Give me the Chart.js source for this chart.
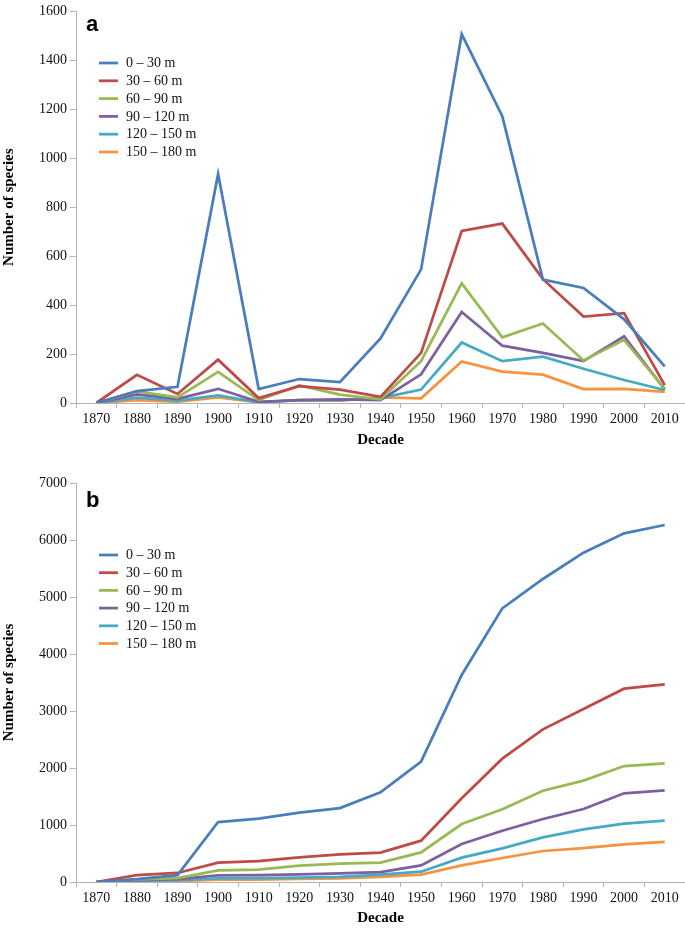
<!DOCTYPE html>
<html>
<head>
<meta charset="utf-8">
<script src="https://cdn.jsdelivr.net/npm/chart.js@4.4.1/dist/chart.umd.min.js"></script>
<style>
  html, body { margin: 0; padding: 0; background: #fff; }
  #wrap { position: relative; width: 685px; height: 928px; }
  .panel { position: absolute; left: 0; width: 685px; height: 464px; }
  canvas { display: block; }
</style>
</head>
<body>
<div id="wrap">
  <div class="panel" style="top:0"><canvas id="cA" width="685" height="464"></canvas></div>
  <div class="panel" style="top:464px"><canvas id="cB" width="685" height="464"></canvas></div>
</div>
<script>
// ---- data ----
const decades = ['1870','1880','1890','1900','1910','1920','1930','1940','1950','1960','1970','1980','1990','2000','2010'];
const seriesLabels = ['0 \u2013 30 m','30 \u2013 60 m','60 \u2013 90 m','90 \u2013 120 m','120 \u2013 150 m','150 \u2013 180 m'];
const seriesColors = ['#4A7EBB','#BE4B48','#98B954','#7D60A0','#46AAC5','#F69240'];

// panel a: species per decade
const a0_30   = [0, 49, 66, 936, 57, 98, 85, 264, 546, 1507, 1172, 504, 470, 342, 150];
const a30_60  = [0, 115, 37, 177, 20, 69, 55, 25, 205, 703, 733, 506, 353, 367, 73];
const a60_90  = [0, 47, 23, 127, 12, 72, 34, 15, 171, 489, 268, 325, 174, 258, 59];
const a90_120 = [0, 35, 17, 58, 5, 12, 15, 12, 117, 372, 234, 205, 171, 272, 55];
const a120_150= [0, 22, 10, 31, 3, 12, 12, 20, 55, 247, 171, 189, 140, 94, 53];
const a150_180= [0, 12, 5, 23, 3, 12, 10, 23, 19, 170, 128, 116, 57, 58, 45];

// panel b: cumulative species
const b0_30   = [0, 50, 120, 1052, 1111, 1216, 1297, 1572, 2111, 3632, 4801, 5316, 5778, 6117, 6263];
const b30_60  = [0, 120, 158, 339, 368, 433, 486, 515, 725, 1468, 2164, 2678, 3035, 3392, 3468];
const b60_90  = [0, 47, 70, 205, 216, 286, 321, 339, 520, 1017, 1275, 1602, 1778, 2035, 2082];
const b90_120 = [0, 35, 52, 117, 122, 135, 150, 175, 292, 667, 900, 1105, 1280, 1556, 1608];
const b120_150= [0, 22, 32, 63, 66, 78, 90, 130, 181, 427, 591, 784, 924, 1023, 1076];
const b150_180= [0, 12, 17, 40, 43, 55, 65, 90, 129, 292, 421, 544, 596, 661, 702];

const yTitle = 'Number of species';
const xTitle = 'Decade';

// ---- styling / helpers ----
const SERIF = '"Liberation Serif", "Times New Roman", serif';
const SANS = '"Liberation Sans", Arial, sans-serif';
const AXIS = '#B3B3B3';

const panelPlugin = {
  id: 'panelDeco',
  afterDraw(chart, args, opts) {
    const ctx = chart.ctx;
    ctx.save();
    ctx.fillStyle = '#000';
    ctx.font = 'bold 22px ' + SANS;
    ctx.textAlign = 'left';
    ctx.textBaseline = 'alphabetic';
    ctx.fillText(opts.letter, opts.letterX, opts.letterY);
    ctx.font = '14px ' + SERIF;
    ctx.textBaseline = 'middle';
    chart.data.datasets.forEach((ds, i) => {
      const y = opts.legendY + i * opts.legendStep;
      ctx.strokeStyle = ds.borderColor;
      ctx.lineWidth = 2.75;
      ctx.beginPath();
      ctx.moveTo(opts.lineX0, y);
      ctx.lineTo(opts.lineX1, y);
      ctx.stroke();
      ctx.fillStyle = '#111';
      ctx.fillText(ds.label, opts.textX, y + 0.5);
    });
    ctx.restore();
  }
};

function cfg(arrays, yMax, yStep, deco, padTop, areaH, titlePadBottom) {
  const datasets = arrays.map((arr, i) => ({
    label: seriesLabels[i],
    data: arr,
    borderColor: seriesColors[i],
    backgroundColor: seriesColors[i],
    borderWidth: 2.75,
    pointRadius: 0,
    tension: 0,
    fill: false,
    order: i
  }));
  return {
    type: 'line',
    data: { labels: decades, datasets: datasets },
    options: {
      responsive: false,
      animation: false,
      devicePixelRatio: 1,
      layout: { padding: { top: padTop, left: 0, right: 0, bottom: 0 } },
      plugins: {
        legend: { display: false },
        tooltip: { enabled: false },
        panelDeco: deco
      },
      scales: {
        x: {
          type: 'category',
          offset: true,
          grid: { offset: true, drawOnChartArea: false, drawTicks: true, tickLength: 5, color: AXIS, tickColor: AXIS },
          border: { display: true, color: AXIS, width: 1 },
          ticks: { color: '#111', font: { family: SERIF, size: 14 }, padding: 3, maxRotation: 0, autoSkip: false },
          title: { display: true, text: xTitle, color: '#000', font: { family: SERIF, size: 15, weight: 'bold' }, padding: { top: 0, bottom: titlePadBottom } },
          afterFit(scale) { scale.height = 464 - padTop - areaH; }
        },
        y: {
          min: 0, max: yMax,
          grid: { drawOnChartArea: false, drawTicks: true, tickLength: 6, color: AXIS, tickColor: AXIS },
          border: { display: true, color: AXIS, width: 1 },
          ticks: { stepSize: yStep, color: '#111', font: { family: SERIF, size: 14 }, padding: 3, callback: v => String(v) },
          title: { display: true, text: yTitle, color: '#000', font: { family: SERIF, size: 15, weight: 'bold' }, padding: { top: 0, bottom: 0 } },
          afterFit(scale) { scale.width = 76; }
        }
      }
    },
    plugins: [panelPlugin]
  };
}

const arrsA = [a0_30, a30_60, a60_90, a90_120, a120_150, a150_180];
const arrsB = [b0_30, b30_60, b60_90, b90_120, b120_150, b150_180];

new Chart(document.getElementById('cA'), cfg(arrsA, 1600, 200,
  { letter: 'a', letterX: 86, letterY: 31, legendY: 63, legendStep: 17.8, lineX0: 99, lineX1: 118, textX: 126 },
  8, 395, 15));
new Chart(document.getElementById('cB'), cfg(arrsB, 7000, 1000,
  { letter: 'b', letterX: 86, letterY: 43, legendY: 91, legendStep: 17.7, lineX0: 99, lineX1: 118, textX: 126 },
  19, 399, 1));
</script>
</body>
</html>
